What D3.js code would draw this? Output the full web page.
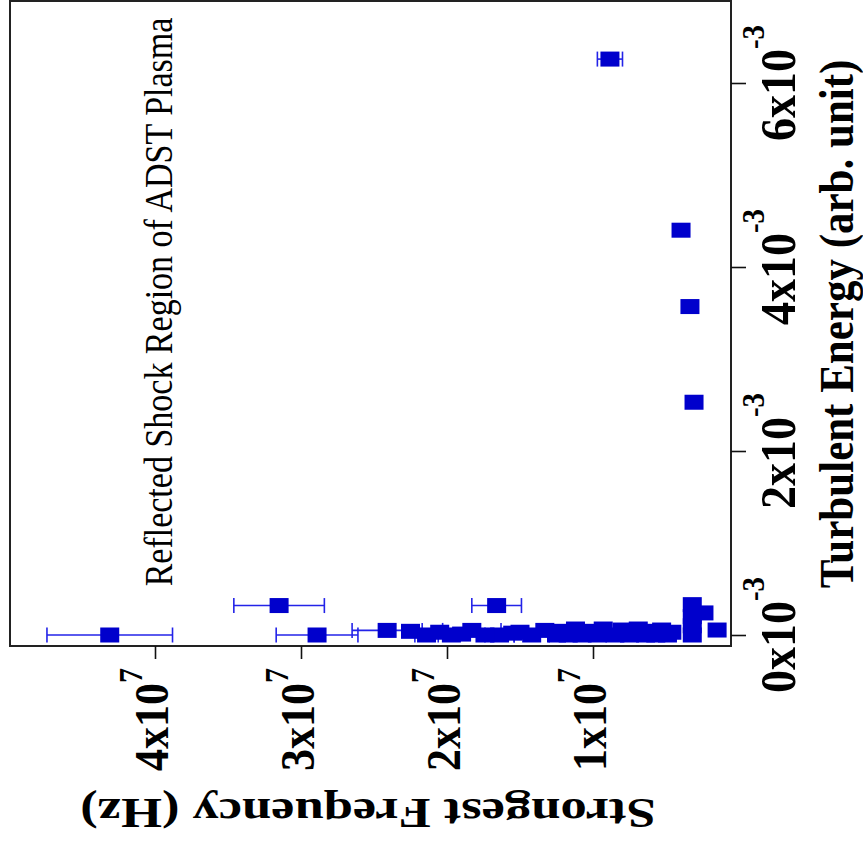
<!DOCTYPE html>
<html>
<head>
<meta charset="utf-8">
<script src="https://cdn.jsdelivr.net/npm/d3@7"></script>
<style>
  html, body { margin: 0; padding: 0; background: #fff; }
  svg { display: block; }
</style>
</head>
<body>
<svg id="chart" width="863" height="846"></svg>
<script>
// Strongest frequency (Hz) vs turbulent energy (arb. unit), drawn rotated:
// the energy axis runs up the right side, the frequency axis along the bottom.

// Strongest frequency of each sample (Hz)
const freqHz = [
  0.884e7, 0.397e7, 0.336e7, 0.308e7,
  4.31e7, 3.15e7, 2.89e7, 2.41e7, 2.25e7, 2.14e7, 1.66e7,
  1.97e7, 1.83e7, 1.64e7, 1.42e7, 2.05e7, 1.90e7, 1.74e7, 1.55e7, 1.50e7,
  1.33e7, 1.23e7, 1.12e7, 1.02e7, 0.93e7, 1.25e7, 1.075e7, 0.85e7,
  0.80e7, 0.69e7, 0.61e7, 0.64e7, 0.53e7, 0.49e7, 0.75e7, 0.57e7, 0.46e7, 0.97e7, 1.17e7,
  0.32e7, 0.32e7, 0.32e7, 0.32e7, 0.24e7, 0.15e7
];
// Turbulent energy of each sample (arb. unit)
const turbEnergy = [
  6.26e-3, 4.40e-3, 3.57e-3, 2.53e-3,
  0.0, 0.32e-3, 0.0, 0.05e-3, 0.04e-3, 0.0, 0.32e-3,
  0.0, 0.05e-3, 0.0, 0.0, 0.03e-3, 0.01e-3, 0.0, 0.02e-3, 0.03e-3,
  0.05e-3, 0.04e-3, 0.065e-3, 0.04e-3, 0.065e-3, 0.0, 0.0, 0.0,
  0.054e-3, 0.065e-3, 0.04e-3, 0.0, 0.054e-3, 0.0, 0.0, 0.0, 0.03e-3, 0.0, 0.0,
  0.33e-3, 0.20e-3, 0.10e-3, 0.0, 0.24e-3, 0.054e-3
];
// Uncertainty of the frequency (Hz), 0 where no bar is drawn
const freqErrHz = [
  0.086e7, 0, 0, 0,
  0.43e7, 0.31e7, 0.28e7, 0.24e7, 0, 0.08e7, 0.17e7,
  0, 0.2e7, 0.1e7, 0.12e7, 0, 0, 0, 0, 0,
  0, 0, 0, 0, 0, 0, 0, 0,
  0, 0, 0, 0, 0, 0, 0, 0, 0, 0, 0,
  0, 0, 0, 0, 0, 0
];

const energyTicks = [0, 2e-3, 4e-3, 6e-3];
const energyTickMant = ["0", "2", "4", "6"];
const energyTickExp = "-3";
const freqTicks = [1e7, 2e7, 3e7, 4e7];
const freqTickMant = ["1", "2", "3", "4"];
const freqTickExp = "7";

const title = "Reflected Shock Region of ADST Plasma";
const energyLabel = "Turbulent Energy (arb. unit)";
const freqLabel = "Strongest Frequency (Hz)";

const svg = d3.select("#chart");
const serif = "'Liberation Serif', 'Times New Roman', serif";
const markColor = "#0000cc";
const barColor = "#2323e8";

// plot frame
const frame = { left: 10, right: 731, top: 1, bottom: 646 };

const x = d3.scaleLinear().domain([0, 5e7]).range([739, 9]);
const y = d3.scaleLinear().domain([0, 6e-3]).range([635, 83]);

const pts = freqHz.map((f, i) => ({ f, e: turbEnergy[i], err: freqErrHz[i] }));

// error bars
const eb = svg.append("g").attr("stroke", barColor).attr("stroke-width", 1.6).attr("fill", "none");
pts.filter(d => d.err > 0).forEach(d => {
  const cy = y(d.e), x1 = x(d.f - d.err), x2 = x(d.f + d.err);
  eb.append("line").attr("x1", x1).attr("x2", x2).attr("y1", cy).attr("y2", cy);
  eb.append("line").attr("x1", x1).attr("x2", x1).attr("y1", cy - 7.5).attr("y2", cy + 7.5);
  eb.append("line").attr("x1", x2).attr("x2", x2).attr("y1", cy - 7.5).attr("y2", cy + 7.5);
});

// square markers
const mw = 19, mh = 15;
svg.append("g").selectAll("rect").data(pts).join("rect")
  .attr("x", d => x(d.f) - mw / 2)
  .attr("y", d => y(d.e) - mh / 2)
  .attr("width", mw).attr("height", mh)
  .attr("fill", markColor);

// frame
svg.append("rect")
  .attr("x", frame.left).attr("y", frame.top)
  .attr("width", frame.right - frame.left).attr("height", frame.bottom - frame.top)
  .attr("fill", "none").attr("stroke", "#222").attr("stroke-width", 2);

// energy axis ticks (right)
const eAxis = svg.append("g").attr("transform", `translate(${frame.right},0)`)
  .call(d3.axisRight(y).tickValues(energyTicks).tickSize(15).tickSizeOuter(0).tickFormat(""));
eAxis.select(".domain").remove();
eAxis.selectAll("line").attr("stroke", "#111").attr("stroke-width", 1.6);

// frequency axis ticks (bottom)
const fAxis = svg.append("g").attr("transform", `translate(0,${frame.bottom})`)
  .call(d3.axisBottom(x).tickValues(freqTicks).tickSize(13).tickSizeOuter(0).tickFormat(""));
fAxis.select(".domain").remove();
fAxis.selectAll("line").attr("stroke", "#111").attr("stroke-width", 1.6);

// energy tick labels, e.g. 6x10^-3, reading upward
energyTicks.forEach((v, i) => {
  const t = svg.append("text")
    .attr("transform", `translate(795,${y(v)}) scale(1.1,1) rotate(-90)`)
    .attr("text-anchor", "middle")
    .attr("font-family", serif).attr("font-weight", "bold")
    .attr("font-size", 46).attr("fill", "#000");
  t.append("tspan").text(energyTickMant[i] + "x10");
  t.append("tspan").attr("font-size", 29).attr("dy", -28).text(energyTickExp);
});

// frequency tick labels, e.g. 4x10^7, reading upward
freqTicks.forEach((v, i) => {
  const t = svg.append("text")
    .attr("transform", `translate(${x(v) + 13},668) scale(1.12,1) rotate(-90)`)
    .attr("text-anchor", "end")
    .attr("font-family", serif).attr("font-weight", "bold")
    .attr("font-size", 44).attr("fill", "#000");
  t.append("tspan").text(freqTickMant[i] + "x10");
  t.append("tspan").attr("font-size", 30).attr("dy", -23).text(freqTickExp);
});

// axis titles (slightly widened glyphs)
svg.append("text")
  .attr("transform", "translate(853,324) scale(1.15,1) rotate(-90)")
  .attr("text-anchor", "middle")
  .attr("font-family", serif).attr("font-weight", "bold").attr("font-size", 43)
  .text(energyLabel);

svg.append("text")
  .attr("transform", "translate(368,799) scale(1.25,1) rotate(180)")
  .attr("text-anchor", "middle")
  .attr("font-family", serif).attr("font-weight", "bold").attr("font-size", 42)
  .text(freqLabel);

// in-plot annotation
svg.append("text")
  .attr("transform", "translate(172,302) scale(1.2,1) rotate(-90)")
  .attr("text-anchor", "middle")
  .attr("font-family", serif).attr("font-size", 34)
  .text(title);
</script>
</body>
</html>
